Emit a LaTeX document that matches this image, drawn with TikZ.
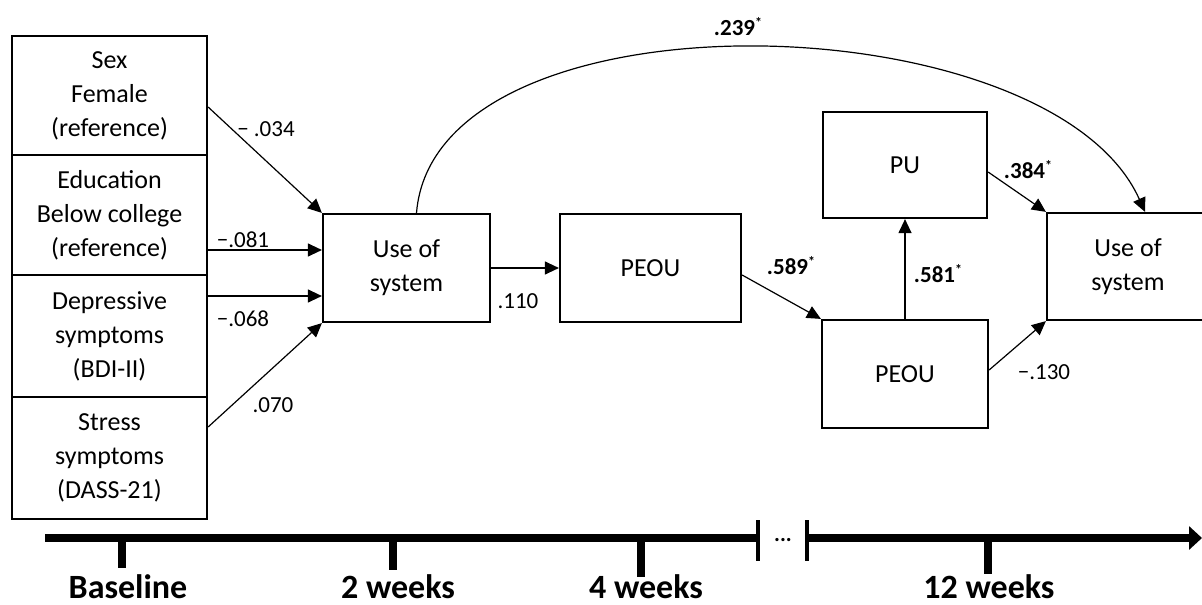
\documentclass[tikz,border=0pt]{standalone}
\usepackage{fontspec}
\setmainfont{Carlito}
\usetikzlibrary{arrows.meta}
\begin{document}
\begin{tikzpicture}[x=0.5pt,y=-0.5pt,
  box/.style={draw=black,line width=1.1pt,inner sep=0pt,align=center,
    font=\fontsize{13}{17}\selectfont},
  arr/.style={line width=0.6pt,-{Triangle[length=7pt,width=6.5pt]}},
  coef/.style={inner sep=0pt,font=\fontsize{11.5}{13}\selectfont},
  tline/.style={line width=4pt},
  tick/.style={line width=4pt},
  brk/.style={line width=2pt},
  tlab/.style={inner sep=0pt,anchor=base,font=\fontsize{17}{20}\selectfont\bfseries}]
\newcommand{\sig}{\raisebox{4pt}{\fontsize{7}{7}\selectfont\bfseries *}}
\useasboundingbox (0,0) rectangle (1202,604);
\clip (0,0) rectangle (1202,604);
% left boxes
\node[box,minimum width=97.5pt,minimum height=59.5pt] (sex) at (109.5,95.5) {Sex\\Female\\(reference)};
\node[box,minimum width=97.5pt,minimum height=60pt] (edu) at (109.5,215) {Education\\Below college\\(reference)};
\node[box,minimum width=97.5pt,minimum height=61pt] (dep) at (109.5,336) {Depressive\\symptoms\\(BDI-II)};
\node[box,minimum width=97.5pt,minimum height=61pt] (str) at (109.5,458) {Stress\\symptoms\\(DASS-21)};
% main boxes
\node[box,minimum width=83.5pt,minimum height=54pt] (use1) at (406.5,268) {Use of\\system};
\node[box,minimum width=90.5pt,minimum height=54pt] (peou1) at (650.5,268) {PEOU};
\node[box,minimum width=82pt,minimum height=53pt] (pu) at (905,165) {PU};
\node[box,minimum width=83pt,minimum height=54pt] (peou2) at (905,374) {PEOU};
\node[box,minimum width=81pt,minimum height=53.5pt] (use2) at (1128,266.5) {Use of\\system};
% connectors
\coordinate (tedu) at ([yshift=9pt]use1.west);
\coordinate (tdep) at ([yshift=-14pt]use1.west);
\draw[arr] ([yshift=-5.75pt]sex.east) -- (use1.north west);
\draw[arr] (edu.east |- tedu) -- (tedu);
\draw[arr] (dep.east |- tdep) -- (tdep);
\draw[arr] ([yshift=15.5pt]str.east) -- (use1.south west);
\draw[arr] (use1.east) -- (peou1.west);
\draw[arr] ([yshift=-3.5pt]peou1.east) -- (peou2.north west);
\draw[arr] (peou2.north) -- (pu.south);
\draw[arr] ([yshift=-3.5pt]pu.east) -- (use2.north west);
\draw[arr] ([yshift=2pt]peou2.east) -- (use2.south west);
\draw[arr] ([xshift=5pt]use1.north) .. controls (435,-15) and (1050,0) .. ([xshift=8.5pt]use2.north);
% coefficients
\node[coef] (c1) at (266,129) {− .034};
\node[coef] (c2) at (243,240) {−.081};
\node[coef] (c3) at (243,319) {−.068};
\node[coef] (c4) at (273,405) {.070};
\node[coef] (c5) at (518,301) {.110};
\node[coef] (c6) at (791,266) {\textbf{.589}\sig};
\node[coef] (c7) at (938,274) {\textbf{.581}\sig};
\node[coef] (c8) at (1028,170) {\textbf{.384}\sig};
\node[coef] (c9) at (1044,372) {−.130};
\node[coef] (c10) at (738,27) {\textbf{.239}\sig};
% timeline
\coordinate (t0) at (45,538);
\coordinate (b1) at (758,538);
\coordinate (b2) at (807,538);
\coordinate (tend) at (1202,538);
\draw[tline] (t0) -- (b1);
\draw[tline,-{Triangle[length=6.5pt,width=11.5pt]}] (b2) -- (tend);
\draw[brk] (758,520) -- (758,561);
\draw[brk] (807,520) -- (807,561);
\node[inner sep=0pt,anchor=base,font=\fontsize{11}{12}\selectfont\bfseries] (dots) at (783,541) {...};
\draw[tick] (122,538) -- (122,568);
\draw[tick] (393,538) -- (393,570);
\draw[tick] (641,538) -- (641,577);
\draw[tick] (988,538) -- (988,574);
\node[tlab] (lb) at (128,598) {Baseline};
\node[tlab] (l2) at (398,598) {2 weeks};
\node[tlab] (l4) at (646,598) {4 weeks};
\node[tlab] (l12) at (989,598) {12 weeks};
\end{tikzpicture}
\end{document}
